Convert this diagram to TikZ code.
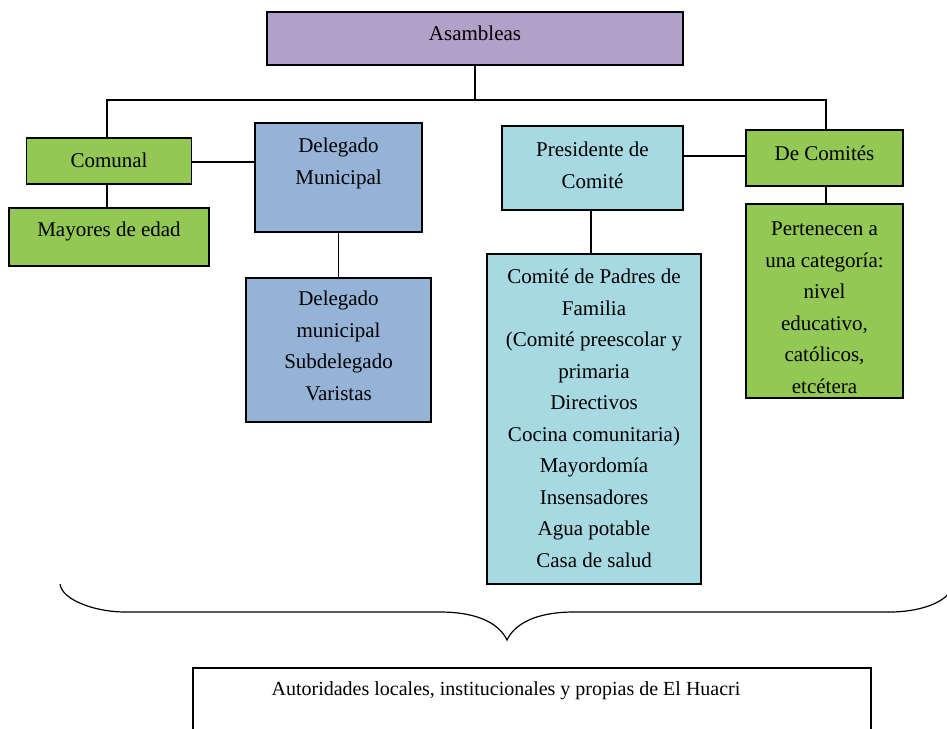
\documentclass[tikz,border=0pt]{standalone}
\usepackage{fontspec}
\setmainfont{Liberation Serif}
\definecolor{cPurple}{HTML}{B1A0C7}
\definecolor{cGreen}{HTML}{92C853}
\definecolor{cBlue}{HTML}{95B3D7}
\definecolor{cAqua}{HTML}{A7D9E3}
\begin{document}
\begin{tikzpicture}[x=1pt,y=-1pt,
  box/.style={draw=black, line width=1.6pt, rectangle, inner sep=0pt},
  txt/.style={anchor=north, align=center, inner sep=0pt, font=\fontsize{21}{31.5}\selectfont},
  conn/.style={draw=black, line width=1.6pt}]
\clip (0,0) rectangle (947,728);
\fill[white] (0,0) rectangle (947,728);
% boxes
\node[box, fill=cPurple, minimum width=416pt, minimum height=53pt] (asam) at (475,38.5) {};
\node[box, fill=cGreen, minimum width=165pt, minimum height=46pt] (comunal) at (109,161) {};
\node[box, fill=cGreen, minimum width=200pt, minimum height=58pt] (mayores) at (109,237) {};
\node[box, fill=cBlue, minimum width=167pt, minimum height=109pt] (deleg) at (338.5,177.5) {};
\node[box, fill=cBlue, minimum width=185pt, minimum height=144pt] (delsub) at (338.5,350) {};
\node[box, fill=cAqua, minimum width=181pt, minimum height=84pt] (pres) at (592.5,168) {};
\node[box, fill=cAqua, minimum width=214pt, minimum height=330pt] (comite) at (594,419) {};
\node[box, fill=cGreen, minimum width=157pt, minimum height=56pt] (decom) at (824.5,158) {};
\node[box, fill=cGreen, minimum width=157pt, minimum height=194pt] (pert) at (824.5,301) {};
\node[box, fill=white, line width=1.4pt, minimum width=678pt, minimum height=80pt] (aut) at (532,708) {};
% texts
\node[txt] (tasam) at (475,18.3) {\strut Asambleas};
\node[txt] (tcom) at (109,145.3) {\strut Comunal};
\node[txt] (tmay) at (109,214.3) {\strut Mayores de edad};
\node[txt] (tdel) at (338.5,130.3) {\strut Delegado\\Municipal};
\node[txt] (tsub) at (338.5,283.3) {\strut Delegado\\municipal\\Subdelegado\\Varistas};
\node[txt] (tpres) at (592.5,134.3) {\strut Presidente de\\Comité};
\node[txt] (tcomite) at (594,261.3) {\strut Comité de Padres de\\Familia\\(Comité preescolar y\\primaria\\Directivos\\Cocina comunitaria)\\Mayordomía\\Insensadores\\Agua potable\\Casa de salud};
\node[txt] (tdecom) at (824.5,138.3) {\strut De Comités};
\node[txt] (tpert) at (824.5,213.3) {\strut Pertenecen a\\una categoría:\\nivel\\educativo,\\católicos,\\etcétera};
\node[txt, font=\fontsize{20}{30}\selectfont] (taut) at (506,674.5) {\strut Autoridades locales, institucionales y propias de El Huacri};
% connectors
\coordinate (bus) at (0,100);
\draw[conn] (asam.south) -- (asam.south |- bus);
\draw[conn] ([xshift=-2pt]comunal.north) -- ([xshift=-2pt]comunal.north |- bus) -- ([xshift=1.5pt]decom.north |- bus) -- ([xshift=1.5pt]decom.north);
\draw[conn] ([xshift=-2pt]comunal.south) -- ([xshift=-2pt]comunal.south |- mayores.north);
\draw[conn] ([yshift=-1pt]comunal.east) -- ([yshift=-1pt]comunal.east -| deleg.west);
\draw[conn] (deleg.south) -- (deleg.south |- delsub.north);
\draw[conn] ([xshift=-1.5pt]pres.south) -- ([xshift=-1.5pt]pres.south |- comite.north);
\draw[conn] ([yshift=2pt]decom.west) -- ([yshift=2pt]decom.west -| pres.east);
\draw[conn] ([xshift=1.5pt]decom.south) -- ([xshift=1.5pt]decom.south |- pert.north);
% brace
\coordinate (bl) at (60,584);
\coordinate (bt) at (507,640);
\coordinate (br) at (949,593);
\draw[line width=1.2pt] (bl) .. controls (62,600) and (95,612) .. (125,612)
  -- (440,612) .. controls (480,612) and (500,625) .. (bt)
  .. controls (514,625) and (534,612) .. (574,612)
  -- (890,612) .. controls (915,612) and (940,605) .. (br);
\end{tikzpicture}
\end{document}
